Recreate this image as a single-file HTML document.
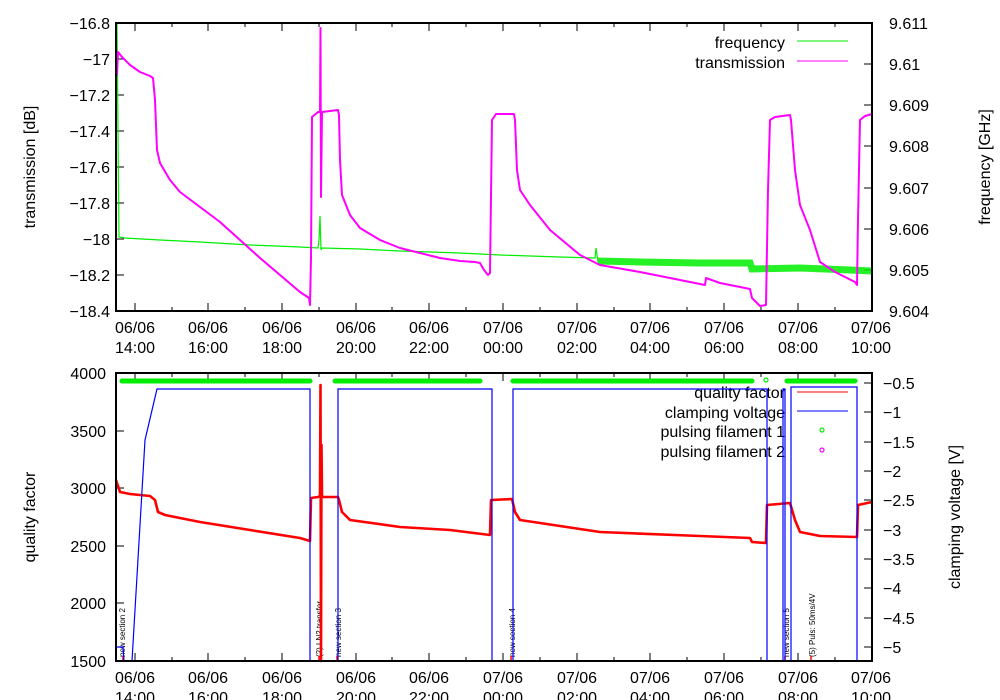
<!DOCTYPE html>
<html><head><meta charset="utf-8"><style>
html,body{margin:0;padding:0;background:#fff;}
svg{display:block;font-family:"Liberation Sans",sans-serif;}
</style></head><body>
<svg width="1000" height="700" viewBox="0 0 1000 700" xmlns="http://www.w3.org/2000/svg">
<g font-size="16" fill="#000">
<!-- TOP PLOT -->
<g stroke="#000" stroke-width="1">
<path d="M116,59h8M116,95h8M116,131h8M116,167h8M116,203h8M116,239h8M116,275h8M872,64h-8M872,105h-8M872,146h-8M872,188h-8M872,229h-8M872,270h-8"/>
<path d="M135,311v-8M208,311v-8M282,311v-8M356,311v-8M429,311v-8M503,311v-8M577,311v-8M650,311v-8M724,311v-8M798,311v-8M135,23v8M208,23v8M282,23v8M356,23v8M429,23v8M503,23v8M577,23v8M650,23v8M724,23v8M798,23v8"/>
<path d="M172,311v-4M245,311v-4M319,311v-4M392,311v-4M466,311v-4M540,311v-4M614,311v-4M687,311v-4M761,311v-4M835,311v-4M172,23v4M245,23v4M319,23v4M392,23v4M466,23v4M540,23v4M614,23v4M687,23v4M761,23v4M835,23v4"/>
</g>
<g text-anchor="end">
<text x="110" y="29">−16.8</text><text x="110" y="65">−17</text><text x="110" y="101">−17.2</text><text x="110" y="137">−17.4</text><text x="110" y="173">−17.6</text><text x="110" y="209">−17.8</text><text x="110" y="245">−18</text><text x="110" y="281">−18.2</text><text x="110" y="317">−18.4</text>
</g>
<g>
<text x="889" y="29">9.611</text><text x="889" y="70">9.61</text><text x="889" y="111">9.609</text><text x="889" y="152">9.608</text><text x="889" y="194">9.607</text><text x="889" y="235">9.606</text><text x="889" y="276">9.605</text><text x="889" y="317">9.604</text>
</g>
<g text-anchor="middle">
<text x="135" y="333">06/06</text><text x="135" y="353">14:00</text>
<text x="208" y="333">06/06</text><text x="208" y="353">16:00</text>
<text x="282" y="333">06/06</text><text x="282" y="353">18:00</text>
<text x="356" y="333">06/06</text><text x="356" y="353">20:00</text>
<text x="429" y="333">06/06</text><text x="429" y="353">22:00</text>
<text x="503" y="333">07/06</text><text x="503" y="353">00:00</text>
<text x="577" y="333">07/06</text><text x="577" y="353">02:00</text>
<text x="650" y="333">07/06</text><text x="650" y="353">04:00</text>
<text x="724" y="333">07/06</text><text x="724" y="353">06:00</text>
<text x="798" y="333">07/06</text><text x="798" y="353">08:00</text>
<text x="871" y="333">07/06</text><text x="871" y="353">10:00</text>
</g>
<text transform="translate(35,167) rotate(-90)" text-anchor="middle">transmission [dB]</text>
<text transform="translate(990,167) rotate(-90)" text-anchor="middle">frequency [GHz]</text>

<!-- green noise band -->
<polyline fill="none" stroke="#00ee00" stroke-width="7" stroke-opacity="0.85" points="598,261 640,262 700,263 750,263 752,269 800,268 850,270 872,271"/>
<polyline fill="none" stroke="#00ee00" stroke-width="1.2" points="116,23 117,23 119,237 125,238 160,240 200,242 250,245 300,247 318,248 319,240 320,216 321,250 322,248 360,249 400,251 460,253 500,255 560,257 595,258 596,248 598,262"/>
<polyline fill="none" stroke="#ff00ff" stroke-width="2" stroke-linejoin="round" points="117,75 118,52 122,57 130,65 140,72 150,76 153,78 155,100 157,150 160,163 170,180 180,192 200,207 220,222 240,240 260,258 280,275 300,292 309,298 310,305 311,258 312,117 318,112 320,112 320.5,28 321,197 322,112 338,110 339,115 340,160 342,195 350,215 360,228 380,240 400,248 420,253 440,258 460,261 475,262 480,263 484,270 488,275 490,273 492,120 496,114 514,114 515,120 517,170 520,190 530,205 550,230 580,255 600,265 640,272 680,280 705,285 706,278 720,283 740,287 750,289 752,298 760,306 766,305 768,190 770,120 775,117 790,115 791,120 795,170 800,205 810,230 820,262 835,272 855,282 857,285 858,220 860,120 865,116 872,114"/>
<!-- legend top -->
<text x="785" y="48" text-anchor="end">frequency</text>
<text x="785" y="68" text-anchor="end">transmission</text>
<path d="M797,41h51" stroke="#00ee00"/>
<path d="M797,61h51" stroke="#ff00ff"/>
<rect x="116" y="23" width="756" height="288" fill="none" stroke="#000" stroke-width="2"/>

<!-- BOTTOM PLOT -->
<g stroke="#000" stroke-width="1">
<path d="M116,431h8M116,488h8M116,546h8M116,603h8M872,383h-8M872,412h-8M872,442h-8M872,471h-8M872,500h-8M872,530h-8M872,559h-8M872,588h-8M872,618h-8M872,647h-8"/>
<path d="M135,661v-8M208,661v-8M282,661v-8M356,661v-8M429,661v-8M503,661v-8M577,661v-8M650,661v-8M724,661v-8M798,661v-8M135,373v8M208,373v8M282,373v8M356,373v8M429,373v8M503,373v8M577,373v8M650,373v8M724,373v8M798,373v8"/>
<path d="M172,661v-4M245,661v-4M319,661v-4M392,661v-4M466,661v-4M540,661v-4M614,661v-4M687,661v-4M761,661v-4M835,661v-4M172,373v4M245,373v4M319,373v4M392,373v4M466,373v4M540,373v4M614,373v4M687,373v4M761,373v4M835,373v4"/>
</g>
<g text-anchor="end">
<text x="106" y="379">4000</text><text x="106" y="437">3500</text><text x="106" y="494">3000</text><text x="106" y="552">2500</text><text x="106" y="609">2000</text><text x="106" y="667">1500</text>
</g>
<g>
<text x="883" y="389">−0.5</text><text x="883" y="418">−1</text><text x="883" y="448">−1.5</text><text x="883" y="477">−2</text><text x="883" y="506">−2.5</text><text x="883" y="536">−3</text><text x="883" y="565">−3.5</text><text x="883" y="594">−4</text><text x="883" y="624">−4.5</text><text x="883" y="653">−5</text>
</g>
<g text-anchor="middle">
<text x="135" y="683">06/06</text><text x="135" y="703">14:00</text>
<text x="208" y="683">06/06</text><text x="208" y="703">16:00</text>
<text x="282" y="683">06/06</text><text x="282" y="703">18:00</text>
<text x="356" y="683">06/06</text><text x="356" y="703">20:00</text>
<text x="429" y="683">06/06</text><text x="429" y="703">22:00</text>
<text x="503" y="683">07/06</text><text x="503" y="703">00:00</text>
<text x="577" y="683">07/06</text><text x="577" y="703">02:00</text>
<text x="650" y="683">07/06</text><text x="650" y="703">04:00</text>
<text x="724" y="683">07/06</text><text x="724" y="703">06:00</text>
<text x="798" y="683">07/06</text><text x="798" y="703">08:00</text>
<text x="871" y="683">07/06</text><text x="871" y="703">10:00</text>
</g>
<text transform="translate(35,517) rotate(-90)" text-anchor="middle">quality factor</text>
<text transform="translate(960,517) rotate(-90)" text-anchor="middle">clamping voltage [V]</text>

<!-- legend bottom text -->
<text x="785" y="398" text-anchor="end">quality factor</text>
<text x="785" y="418" text-anchor="end">clamping voltage</text>
<text x="785" y="437" text-anchor="end">pulsing filament 1</text>
<text x="785" y="457" text-anchor="end">pulsing filament 2</text>
<path d="M797,392h51" stroke="#ff0000"/>
<path d="M797,411h51" stroke="#0000ff"/>
<circle cx="822" cy="430" r="2" fill="none" stroke="#00ee00" stroke-width="1.2"/>
<circle cx="822" cy="450" r="2" fill="none" stroke="#ff00ff" stroke-width="1.2"/>

<!-- green filament bars -->
<g stroke="#00ee00" stroke-width="5" stroke-linecap="round">
<path d="M122,381H310M335,381H480M513,381H752M787,381H855"/>
</g>
<circle cx="766" cy="380" r="2" fill="none" stroke="#00ee00" stroke-width="1.2"/>

<!-- annotations -->
<g font-size="8">
<text transform="translate(125,657) rotate(-90)">new section 2</text>
<text transform="translate(322,657) rotate(-90)">(2) LN2 transfer</text>
<text transform="translate(341,657) rotate(-90)">new section 3</text>
<text transform="translate(515,657) rotate(-90)">new section 4</text>
<text transform="translate(789,657) rotate(-90)">new section 5</text>
<text transform="translate(815,657) rotate(-90)">(5) Puls: 50ms/4V</text>
</g>
<g stroke="#ff0000" stroke-width="1.5">
<path d="M123,661v-5M319,661v-5M337,661v-5M511,661v-5M785,661v-5M811,661v-5"/>
</g>

<!-- red quality -->
<polyline fill="none" stroke="#ff0000" stroke-width="2.6" stroke-linejoin="round" points="116,480 120,492 130,494 150,496 155,500 158,512 165,515 200,522 250,530 300,538 310,541 311,498 318,497 320,496 320.5,385 321,661 321.5,445 322,497 338,497 339,500 342,512 350,520 400,527 450,530 490,535 491,500 512,499 515,512 520,520 600,532 700,536 750,538 752,542 766,543 767,505 790,503 795,520 800,532 820,536 857,537 858,505 872,502"/>
<!-- blue clamping -->
<polyline fill="none" stroke="#0000ff" stroke-width="1.2" points="116,647 123,647 124,661 132,661 145,440 157,389 310,389 310,661 338,661 338,389 492,389 492,661 513,661 513,389 767,389 767,661 783,661 783,389 785,389 785,661 791,661 791,387 857,387 857,661"/>

<rect x="116" y="373" width="756" height="288" fill="none" stroke="#000" stroke-width="2"/>
</g>
</svg>
</body></html>
